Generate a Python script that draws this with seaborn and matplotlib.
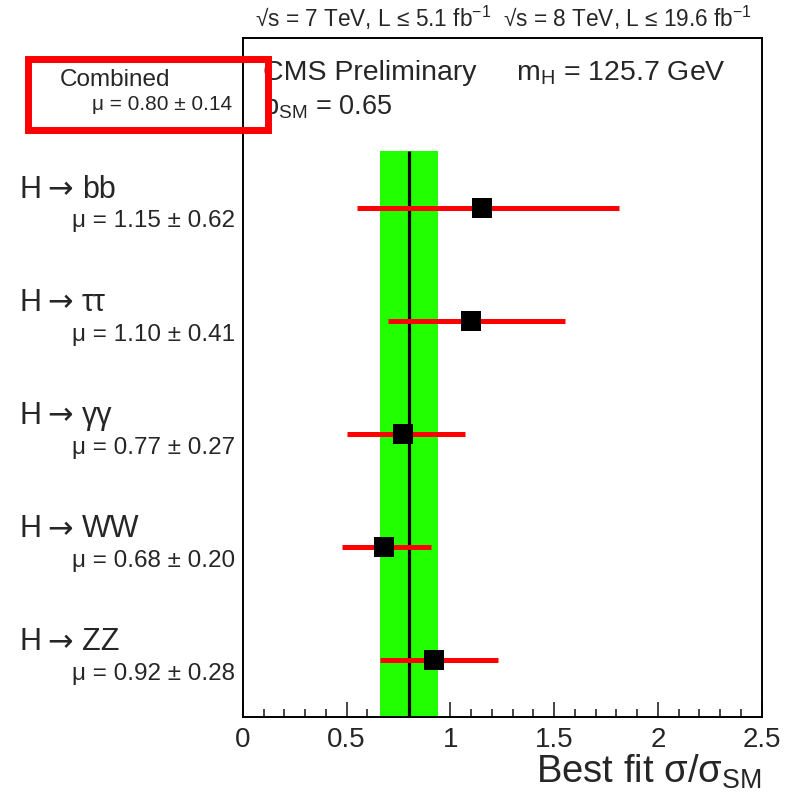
import numpy as np
import pandas as pd
import matplotlib
matplotlib.use("Agg")
import matplotlib.pyplot as plt
import matplotlib.transforms as mtransforms
from matplotlib.patches import Rectangle
import seaborn as sns

# values
channels = ["bb", "ττ", "γγ", "WW", "ZZ"]
mu = [1.15, 1.10, 0.77, 0.68, 0.92]
mu_err = [0.62, 0.41, 0.27, 0.20, 0.28]
bar_lo = [0.55, 0.70, 0.50, 0.48, 0.66]
bar_hi = [1.81, 1.55, 1.07, 0.905, 1.23]

comb_mu = 0.80
comb_err = 0.14
comb_lo = 0.66
comb_hi = 0.94

sns.set_style("white")
plt.rcParams['font.family'] = ['Liberation Sans', 'DejaVu Sans']
plt.rcParams['mathtext.default'] = 'regular'

n = len(channels)
df = pd.DataFrame({
    "channel": channels,
    "mu": mu,
    "lo": bar_lo,
    "hi": bar_hi,
    "ypos": np.arange(n)[::-1] + 0.5,
})

fig = plt.figure(figsize=(7.91, 7.99), dpi=100)
ax = fig.add_axes([0.307, 0.1026, 0.656, 0.8498])

# combined band + line
ax.fill_betweenx([0, n], comb_lo, comb_hi, color="#22ff00", lw=0, zorder=1)
ax.vlines(comb_mu, 0, n, color="black", lw=2.3, zorder=2)

# per-channel error bars and points
ax.hlines(df["ypos"], df["lo"], df["hi"], color="red", lw=3.6, zorder=3)
sns.scatterplot(data=df, x="mu", y="ypos", marker="s", s=210, color="black",
                linewidth=0, zorder=5, ax=ax, legend=False)

ax.set_xlim(0, 2.5)
ax.set_ylim(0, n + 1)
ax.set_yticks([])
ax.set_ylabel("")
ax.set_xlabel("")
ax.set_xticks(np.arange(0, 2.51, 0.5))
ax.set_xticklabels(["0", "0.5", "1", "1.5", "2", "2.5"])
ax.set_xticks(np.arange(0, 2.51, 0.1), minor=True)
ax.tick_params(axis="x", which="major", direction="in", length=11, width=1.2,
               labelsize=20, pad=7, top=False, bottom=True)
ax.tick_params(axis="x", which="minor", direction="in", length=5.5, width=1.2,
               top=False, bottom=True)
for s in ax.spines.values():
    s.set_linewidth(1.4)
    s.set_color("black")

# channel labels on the left: "H", a long arrow, then the final state
trans = mtransforms.blended_transform_factory(fig.transFigure, ax.transData)
for i, row in df.iterrows():
    y = row["ypos"] + 0.16
    ax.text(20 / 791, y, "H", transform=trans, fontsize=22,
            ha="left", va="center")
    ax.text(47 / 791, y, "→", transform=trans, fontsize=22,
            family=["DejaVu Sans"], ha="left", va="center")
    ax.text(82 / 791, y, row["channel"], transform=trans, fontsize=22,
            ha="left", va="center")
    ax.text(0.297, row["ypos"] - 0.12, f"μ = {mu[i]:.2f} ± {mu_err[i]:.2f}",
            transform=trans, fontsize=17.5, ha="right", va="center")

# combined label
fig.text(0.076, 1 - 80 / 799, "Combined", fontsize=17.5, ha="left", va="center")
fig.text(0.294, 1 - 104 / 799, f"μ = {comb_mu:.2f} ± {comb_err:.2f}",
         fontsize=15, ha="right", va="center")

# header texts
fig.text(0.332, 1 - 73 / 799, "CMS Preliminary", fontsize=20.5,
         ha="left", va="center")
fig.text(516 / 791, 1 - 73 / 799, "m$_{H}$ = 125.7 GeV", fontsize=20.5,
         ha="left", va="center")
fig.text(0.332, 1 - 108 / 799, "p$_{SM}$ = 0.65", fontsize=19.5,
         ha="left", va="center")
fig.text(0.637, 1 - 18 / 799,
         "√s = 7 TeV, L ≤ 5.1 fb$^{-1}$  √s = 8 TeV, L ≤ 19.6 fb$^{-1}$",
         fontsize=16.3, ha="center", va="center")

# x label
fig.text(0.963, 1 - 783 / 799, "Best fit σ/σ$_{SM}$", fontsize=27.5,
         ha="right", va="baseline")

# red highlight box
fig.patches.append(Rectangle((28 / 791, 1 - 130 / 799), 240 / 791, 71 / 799,
                             transform=fig.transFigure, fill=False,
                             edgecolor="red", lw=5, zorder=10, figure=fig))

fig.savefig("out.png", dpi=100)
